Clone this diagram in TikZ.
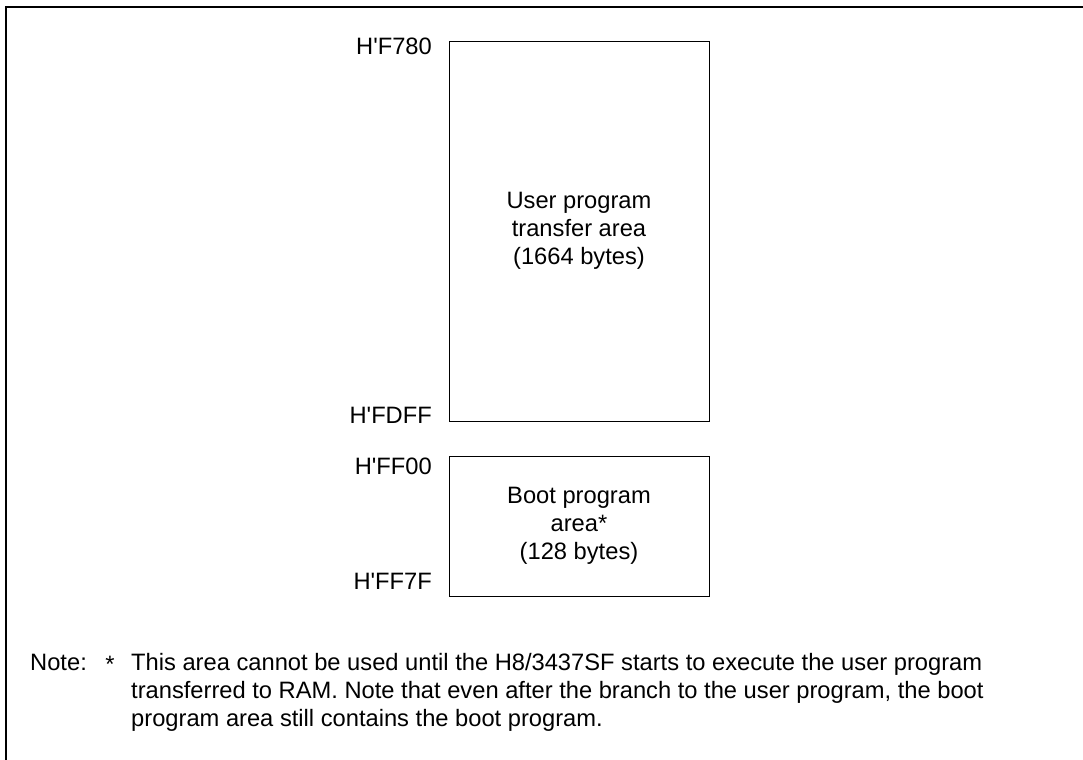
\documentclass[tikz,border=0pt]{standalone}
\usepackage{fontspec}
\setmainfont{Liberation Sans}
\begin{document}
\begin{tikzpicture}[x=1bp,y=-1bp,
  txt/.style={font=\fontsize{23.7bp}{28bp}\selectfont, inner sep=0pt},
  area/.style={draw, line width=0.9bp, minimum width=260bp, align=center, font=\fontsize{23.7bp}{28bp}\selectfont, inner sep=0pt},
  addr/.style={txt, anchor=base east},
  noteline/.style={txt, anchor=base west}]
\useasboundingbox (0,0) rectangle (1083,760);
\coordinate (fbl) at (6,760);
\coordinate (ftl) at (6,7);
\coordinate (ftr) at (1083,7);
\draw[line width=1.6bp] (fbl) -- (ftl) -- (ftr);
\node[area, minimum height=380bp] (user) at (579,231) {User program\\transfer area\\(1664 bytes)};
\node[area, minimum height=140bp] (boot) at (579,526) {Boot program\\area*\\(128 bytes)};
\node[addr] (a1) at (432,55) {H\textquotesingle F780};
\node[addr] (a2) at (432,423) {H\textquotesingle FDFF};
\node[addr] (a3) at (432,474) {H\textquotesingle FF00};
\node[addr] (a4) at (432,589) {H\textquotesingle FF7F};
\node[noteline] (note) at (30,670) {Note:};
\node[txt, anchor=base] (star) at (110,672) {*};
\node[noteline] (n1) at (131,670) {This area cannot be used until the H8/3437SF starts to execute the user program};
\node[noteline] (n2) at (131,698) {transferred to RAM. Note that even after the branch to the user program, the boot};
\node[noteline] (n3) at (131,726) {program area still contains the boot program.};
\end{tikzpicture}
\end{document}
